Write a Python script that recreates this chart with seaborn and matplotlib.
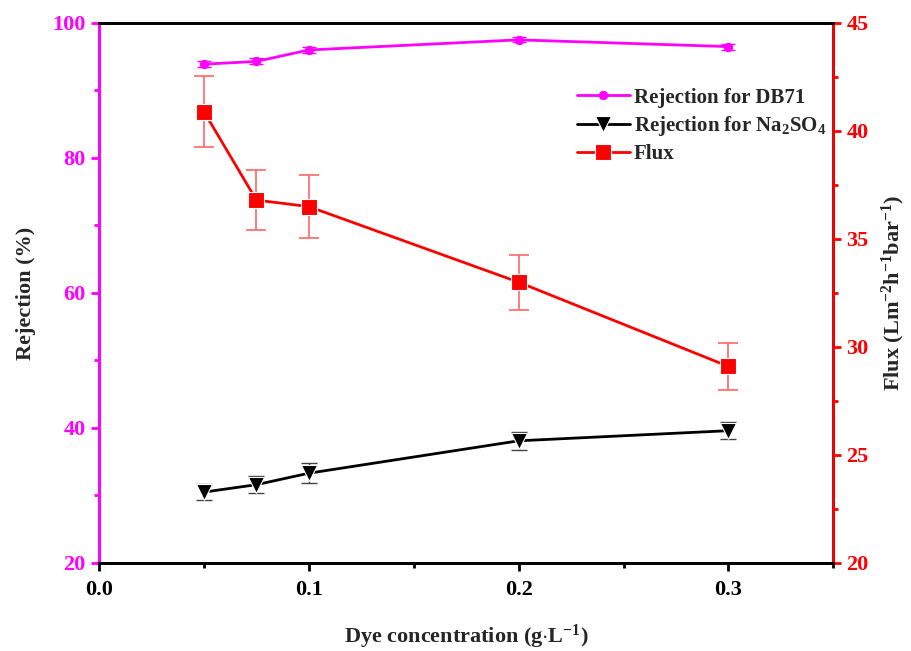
import matplotlib
matplotlib.use("Agg")
import matplotlib.pyplot as plt
import numpy as np
import pandas as pd
import seaborn as sns
from matplotlib.ticker import MultipleLocator

# data
conc = [0.05, 0.075, 0.1, 0.2, 0.3]
rej_db71 = [93.9, 94.3, 96.0, 97.5, 96.5]
rej_db71_err = [0.45, 0.45, 0.4, 0.35, 0.45]
rej_na2so4 = [30.5, 31.6, 33.3, 38.1, 39.6]
rej_na2so4_err = [1.15, 1.25, 1.45, 1.3, 1.25]
flux = [40.9, 36.8, 36.5, 33.0, 29.1]
flux_err = [1.65, 1.4, 1.47, 1.27, 1.08]

sns.set_theme(style="white")
plt.rcParams["font.family"] = ["Liberation Serif", "DejaVu Serif"]
plt.rcParams["font.weight"] = "bold"
plt.rcParams["mathtext.fontset"] = "custom"
plt.rcParams["mathtext.rm"] = "Liberation Serif:bold"
plt.rcParams["mathtext.bf"] = "Liberation Serif:bold"
plt.rcParams["mathtext.it"] = "Liberation Serif:bold"

df = pd.DataFrame({"conc": conc, "db71": rej_db71, "na": rej_na2so4, "flux": flux})

fig = plt.figure(figsize=(9.11, 6.51), dpi=100)
ax = fig.add_axes([0.1087, 0.1352, 0.806, 0.8295])
ax2 = ax.twinx()

magenta = "#ff00ff"
red = "#ff0000"

# error bars first
ax.errorbar(conc, rej_db71, yerr=rej_db71_err, fmt="none", ecolor=magenta,
            elinewidth=1, capsize=5, capthick=1)
ax.errorbar(conc, rej_na2so4, yerr=rej_na2so4_err, fmt="none", ecolor="#444444",
            elinewidth=1, capsize=6, capthick=1)
ax2.errorbar(conc, flux, yerr=flux_err, fmt="none", ecolor="#ff6666",
             elinewidth=1.2, capsize=7, capthick=1.2)

sns.lineplot(data=df, x="conc", y="db71", ax=ax, color=magenta, lw=2,
             marker="o", markersize=6, markeredgecolor=magenta,
             label="Rejection for DB71", legend=False)
sns.lineplot(data=df, x="conc", y="na", ax=ax, color="black", lw=2,
             marker="v", markersize=12, markeredgecolor="white", markeredgewidth=0.8,
             label=r"Rejection for Na$_2$SO$_4$", legend=False)
sns.lineplot(data=df, x="conc", y="flux", ax=ax2, color=red, lw=2,
             marker="s", markersize=11, markeredgecolor="white", markeredgewidth=0.8,
             label="Flux", legend=False)

ax.set_xlim(0, 0.35)
ax.set_ylim(20, 100)
ax2.set_ylim(20, 45)
ax.xaxis.set_major_locator(MultipleLocator(0.1))
ax.xaxis.set_minor_locator(MultipleLocator(0.05))
ax.yaxis.set_major_locator(MultipleLocator(20))
ax.yaxis.set_minor_locator(MultipleLocator(10))
ax2.yaxis.set_major_locator(MultipleLocator(5))
ax2.yaxis.set_minor_locator(MultipleLocator(2.5))
ax.set_xticks([0, 0.1, 0.2, 0.3])
ax.set_xticklabels(["0.0", "0.1", "0.2", "0.3"])

for a in (ax, ax2):
    for s in a.spines.values():
        s.set_linewidth(2)
        s.set_color("black")
ax.spines["left"].set_color(magenta)
ax2.spines["left"].set_color(magenta)
ax2.spines["right"].set_color(red)
ax.spines["top"].set_color("#222222")

ax.tick_params(axis="x", which="major", direction="out", length=6, width=2,
               colors="black", labelsize=16, pad=6, bottom=True)
ax.tick_params(axis="x", which="minor", direction="out", length=3.5, width=2,
               colors="black", bottom=True)
ax.tick_params(axis="y", which="major", direction="out", length=6, width=2,
               colors=magenta, labelsize=16, left=True)
ax.tick_params(axis="y", which="minor", direction="out", length=3.5, width=2,
               colors=magenta, left=True)
ax2.tick_params(axis="y", which="major", direction="out", length=6, width=2,
                colors=red, labelsize=16, right=True)
ax2.tick_params(axis="y", which="minor", direction="out", length=3.5, width=2,
                colors=red, right=True)
for lab in ax.get_xticklabels() + ax.get_yticklabels() + ax2.get_yticklabels():
    lab.set_fontweight("bold")

ax.set_xlabel(r"Dye concentration (g$\cdot$L$^{-1}$)", fontsize=16,
              fontweight="bold", labelpad=17)
ax.set_ylabel("Rejection (%)", fontsize=16, fontweight="bold", labelpad=12)
ax2.set_ylabel(r"Flux (Lm$^{-2}$h$^{-1}$bar$^{-1}$)", fontsize=16,
               fontweight="bold", labelpad=8)

h1, l1 = ax.get_legend_handles_labels()
h2, l2 = ax2.get_legend_handles_labels()
leg = ax2.legend(h1 + h2, l1 + l2, loc="upper left", bbox_to_anchor=(0.626, 0.915),
                 frameon=False, prop={"size": 15, "weight": "bold"},
                 handlelength=2.5, handletextpad=0.2, labelspacing=0.3)

fig.savefig("out.png", dpi=100)
